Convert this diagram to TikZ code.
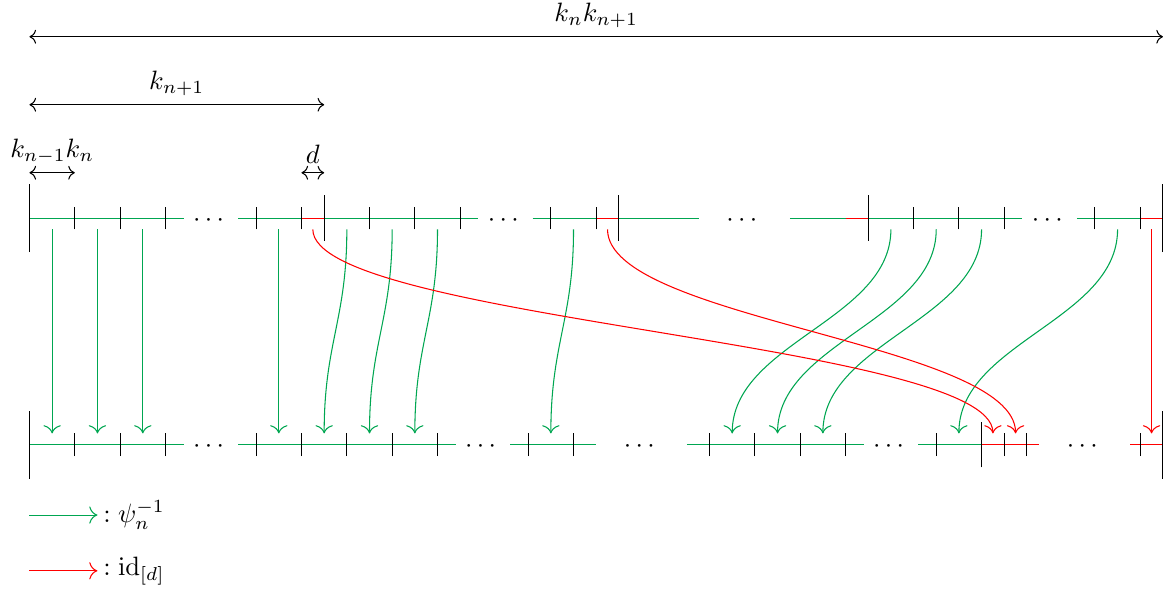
\documentclass[tikz,border=0pt]{standalone}
\usepackage{amsmath}
\usepackage{xcolor}
\usepackage{tikz}
\usetikzlibrary{calc,arrows.meta}
\definecolor{psiGreen}{HTML}{00A651}
\definecolor{idRed}{HTML}{FF0000}
\tikzset{
  psiline/.style={draw=psiGreen, line width=0.4pt},
  idline/.style={draw=idRed, line width=0.4pt},
  ticksmall/.style={draw=black, line width=0.4pt},
  psiarrow/.style={-{To[scale=1.25]}, draw=psiGreen, line width=0.4pt},
  idarrow/.style={-{To[scale=1.25]}, draw=idRed, line width=0.4pt},
  dimarrow/.style={<->, draw=black, line width=0.4pt},
  gapdots/.style={inner sep=0pt, yshift=-0.8pt},
  legendlabel/.style={anchor=west, inner sep=2pt},
}

\begin{document}
\begin{tikzpicture}[x=0.6cm,y=0.6cm]
  \useasboundingbox (-0.65,-8.27) rectangle (25.09,4.81);

  % Dimension arrows
  \coordinate (dim_all_l) at (0,4);
  \coordinate (dim_all_r) at (25,4);
  \coordinate (dim_blk_l) at (0,2.5);
  \coordinate (dim_blk_r) at (6.5,2.5);
  \coordinate (dim_seg_l) at (0,1);
  \coordinate (dim_seg_r) at (1,1);
  \coordinate (dim_d_l) at (6,1);
  \coordinate (dim_d_r) at (6.5,1);
  \draw[dimarrow] (dim_all_l) -- node[above] (lab_all) {$k_nk_{n+1}$} (dim_all_r);
  \draw[dimarrow] (dim_blk_l) -- node[above] (lab_blk) {$k_{n+1}$} (dim_blk_r);
  \draw[dimarrow] (dim_seg_l) -- node[above] (lab_seg) {$k_{n-1}k_n$} (dim_seg_r);
  \draw[dimarrow] (dim_d_l) -- node[above] (lab_d) {$d$} (dim_d_r);

  % Top row
  \draw[psiline] (0,0) -- (3.4,0);
  \draw[psiline] (4.6,0) -- (6,0);
  \draw[idline] (6,0) -- (6.5,0);
  \draw[psiline] (6.5,0) -- (9.9,0);
  \draw[psiline] (11.1,0) -- (12.5,0);
  \draw[idline] (12.5,0) -- (13,0);
  \draw[psiline] (13,0) -- (14.76,0);
  \draw[psiline] (16.77,0) -- (18,0);
  \draw[idline] (18,0) -- (18.5,0);
  \draw[psiline] (18.5,0) -- (21.9,0);
  \draw[psiline] (23.1,0) -- (24.5,0);
  \draw[idline] (24.5,0) -- (25,0);
  \foreach \x [count=\i] in {4,10.5,15.76,22.5}
    \node[gapdots] (top_dots\i) at (\x,0) {$\cdots$};
  \foreach \x in {1,2,3,5,6,7.5,8.5,9.5,11.5,12.5,19.5,20.5,21.5,23.5,24.5}
    \draw[ticksmall] (\x,-0.25) -- (\x,0.25);
  \foreach \x in {6.5,13,18.5}
    \draw[ticksmall] (\x,-0.5) -- (\x,0.5);
  \foreach \x in {0,25}
    \draw[ticksmall] (\x,-0.75) -- (\x,0.75);

  % Bottom row
  \draw[psiline] (0,-5) -- (3.4,-5);
  \draw[psiline] (4.6,-5) -- (9.41,-5);
  \draw[psiline] (10.6,-5) -- (12.5,-5);
  \draw[psiline] (14.5,-5) -- (18.4,-5);
  \draw[psiline] (19.6,-5) -- (21,-5);
  \draw[idline] (21,-5) -- (22.27,-5);
  \draw[idline] (24.28,-5) -- (25,-5);
  \foreach \x [count=\i] in {4,10,13.5,19,23.27}
    \node[gapdots] (bot_dots\i) at (\x,-5) {$\cdots$};
  \foreach \x in {1,2,3,5,6,7,8,9,11,12,15,16,17,18,20,21.5,22,24.5}
    \draw[ticksmall] (\x,-5.25) -- (\x,-4.75);
  \draw[ticksmall] (21,-5.5) -- (21,-4.5);
  \foreach \x in {0,25}
    \draw[ticksmall] (\x,-5.75) -- (\x,-4.25);

  % Maps psi_n^{-1}
  \foreach \a/\b [count=\i] in {0.5/0.5,1.5/1.5,2.5/2.5,5.5/5.5,7/6.5,8/7.5,9/8.5,12/11.5,19/15.5,20/16.5,21/17.5,24/20.5} {
    \coordinate (psi_src\i) at (\a,-0.25);
    \coordinate (psi_dst\i) at (\b,-4.75);
    \draw[psiarrow] (psi_src\i) .. controls +(0,-2) and +(0,2) .. (psi_dst\i);
  }

  % Maps id_[d]
  \foreach \a/\b [count=\i] in {6.25/21.25,12.75/21.75,24.75/24.75} {
    \coordinate (id_src\i) at (\a,-0.25);
    \coordinate (id_dst\i) at (\b,-4.75);
    \draw[idarrow] (id_src\i) .. controls +(0,-2) and +(0,2) .. (id_dst\i);
  }

  % Legend
  \coordinate (leg_psi) at (0,-6.55);
  \coordinate (leg_id) at (0,-7.78);
  \node[legendlabel] (legend_psi) at (1.5,-6.55) {$:\psi_n^{-1}$};
  \node[legendlabel] (legend_id) at (1.5,-7.78) {$:\mathrm{id}_{[d]}$};
  \draw[psiarrow] (leg_psi) -- (legend_psi.west);
  \draw[idarrow] (leg_id) -- (legend_id.west);
\end{tikzpicture}
\end{document}
